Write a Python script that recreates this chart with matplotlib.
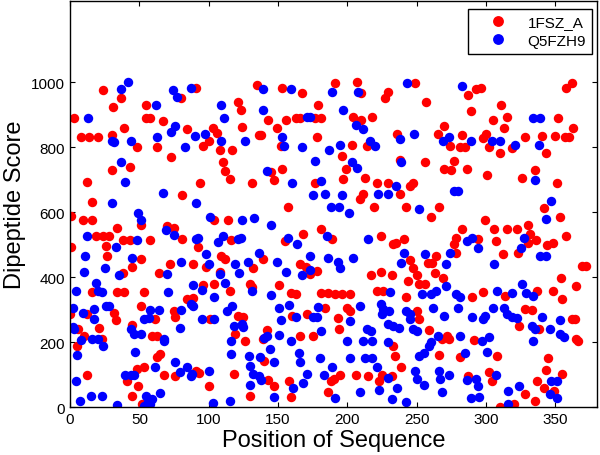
import matplotlib
matplotlib.use("Agg")
import matplotlib.pyplot as plt

# dipeptide score per sequence position
fsz_a_points = [
    (3, 890), (1, 588), (1, 492), (0, 288), (6, 242), (10, 220), (5, 189), (8, 832), (14, 832), (20, 832),
    (12, 694), (9, 577), (16, 577), (16, 633), (19, 528), (24, 528), (28, 528), (26, 497), (27, 466), (24, 977),
    (12, 100), (21, 244), (23, 210), (12, 287), (16, 356), (30, 838), (30, 731), (31, 925),
    (32, 290), (33, 268), (34, 553), (37, 952), (39, 858), (38, 415), (34, 356), (39, 356), (38, 516), (43, 516),
    (43, 740), (48, 802), (45, 431), (45, 255), (45, 36), (41, 82), (49, 66), (51, 456), (51, 561), (55, 931),
    (55, 889), (58, 889), (58, 516), (53, 356), (51, 312), (61, 271), (59, 220), (63, 220), (48, 118), (53, 124),
    (52, 10),
    (64, 415), (70, 558), (75, 553), (67, 881), (63, 802), (73, 770), (80, 951), (84, 857), (81, 654), (81, 518),
    (72, 440), (84, 333), (68, 100), (76, 98), (63, 154), (65, 164), (75, 298), (76, 278), (91, 981), (89, 440),
    (89, 338), (91, 112), (93, 106),
    (96, 805), (100, 820), (103, 859), (106, 845), (108, 792), (110, 754), (112, 727), (115, 702), (117, 792),
    (121, 939), (123, 915), (94, 690), (104, 578), (114, 578), (92, 492), (109, 466), (112, 456), (98, 432),
    (108, 416), (104, 379), (96, 377), (115, 357), (116, 514), (101, 271), (100, 67), (118, 103), (119, 225),
    (121, 282),
    (124, 864), (131, 690), (135, 992), (136, 838), (138, 838), (143, 884), (149, 858), (145, 725), (147, 700),
    (125, 279), (126, 205), (130, 379), (131, 369), (132, 430), (139, 458), (142, 238), (139, 210), (140, 144),
    (143, 85), (147, 67), (130, 36),
    (153, 984), (167, 966), (191, 997), (156, 884), (163, 889), (166, 889), (177, 889), (181, 889), (179, 930),
    (152, 803), (178, 833), (196, 772), (153, 734), (199, 734), (197, 703), (177, 690), (157, 617), (155, 512),
    (168, 534), (181, 548), (189, 517), (166, 442), (170, 432), (178, 420), (173, 411), (151, 377), (159, 353),
    (163, 348), (181, 353), (186, 353), (191, 350), (196, 350), (166, 220), (175, 220), (160, 282), (171, 287),
    (184, 307), (193, 274), (200, 307), (194, 241), (158, 82), (159, 31), (188, 80), (190, 87), (186, 49),
    (195, 101),
    (207, 1000), (210, 966), (229, 971), (227, 953), (204, 892), (210, 884), (218, 894), (203, 807), (214, 803),
    (213, 707), (236, 841), (238, 761), (221, 690), (229, 690), (211, 655), (209, 640), (219, 617), (224, 527),
    (233, 503), (202, 350), (217, 408), (224, 418), (232, 408), (221, 357), (226, 357), (238, 655), (242, 617),
    (235, 505), (241, 517), (245, 455), (247, 430), (250, 407), (244, 389), (242, 340), (202, 297), (206, 101),
    (215, 98), (225, 101), (223, 80), (233, 190), (234, 159), (239, 123), (232, 98), (249, 999), (247, 690),
    (245, 680), (250, 297), (252, 271),
    (257, 939), (256, 754), (270, 866), (265, 842), (274, 805), (277, 758), (270, 734), (275, 730), (286, 734),
    (283, 838), (281, 802), (285, 802), (287, 960), (289, 912), (293, 980), (296, 984), (298, 830), (300, 842),
    (260, 586), (266, 617), (283, 549), (278, 522), (277, 504), (294, 519), (278, 476), (264, 466), (261, 445),
    (258, 445), (263, 415), (269, 397), (252, 379), (256, 379), (299, 578), (298, 354), (290, 341), (259, 238),
    (272, 220), (273, 210), (268, 210), (291, 207), (281, 156), (266, 161), (287, 97),
    (301, 716), (302, 802), (305, 884), (311, 930), (313, 860), (315, 894), (310, 782), (319, 799), (328, 833),
    (340, 836), (343, 782), (326, 707), (335, 730), (351, 690), (350, 836), (357, 833), (360, 833), (363, 858),
    (352, 891), (358, 982), (362, 997), (306, 548), (315, 549), (322, 549), (330, 560), (358, 527), (332, 534),
    (336, 514), (330, 507), (323, 476), (344, 501), (348, 505), (307, 512), (312, 473), (342, 612), (353, 585),
    (354, 399), (365, 374), (369, 435), (372, 435), (314, 343), (337, 358), (348, 357), (355, 333), (324, 251),
    (328, 302), (333, 299), (338, 241), (362, 271), (364, 271), (366, 203), (365, 212), (308, 159), (302, 110),
    (304, 80), (310, 0), (320, 12), (328, 43), (335, 21), (337, 80), (342, 61), (343, 115), (345, 152),
    (349, 51), (355, 102),
]

q5fzh9_points = [
    (2, 307), (2, 249), (3, 241), (4, 359), (4, 81), (7, 19), (5, 160), (8, 207), (9, 290), (10, 418),
    (11, 466), (15, 36), (17, 304), (17, 271), (16, 212), (19, 384), (20, 358), (23, 356), (20, 210), (24, 190),
    (23, 34), (25, 428), (26, 312), (28, 312), (12, 528), (13, 890), (30, 821), (32, 817), (30, 630),
    (33, 492), (34, 8), (35, 408), (37, 978), (42, 1000), (37, 754), (40, 694), (44, 818), (45, 459), (49, 598),
    (51, 578), (48, 516), (44, 241), (46, 226), (51, 226), (53, 271), (57, 276), (58, 300), (55, 36), (56, 16),
    (59, 26), (58, 11), (53, 6), (47, 170), (40, 100), (44, 100), (46, 100), (61, 123),
    (64, 300), (68, 212), (68, 205), (71, 356), (70, 410), (80, 446), (65, 45), (76, 139), (79, 108), (84, 123),
    (87, 98), (79, 245), (80, 300), (87, 318), (67, 659), (62, 931), (63, 833), (73, 848), (76, 865), (74, 976),
    (77, 956), (87, 981), (83, 802), (90, 836), (69, 546), (75, 531), (89, 377), (89, 313), (88, 103),
    (97, 841), (109, 931), (111, 889), (109, 818), (91, 518), (91, 628), (101, 587), (92, 520), (107, 510),
    (110, 527), (98, 473), (100, 440), (108, 410), (112, 384), (119, 440), (95, 361), (104, 340), (95, 271),
    (104, 271), (113, 297), (117, 312), (118, 251), (116, 205), (116, 166), (100, 111), (103, 13), (115, 19),
    (139, 980), (139, 915), (126, 818), (142, 727), (124, 578), (133, 583), (145, 560), (121, 517), (123, 520),
    (122, 415), (128, 448), (136, 476), (149, 447), (131, 357), (145, 345), (124, 258), (125, 246), (142, 220),
    (140, 215), (129, 159), (137, 156), (147, 141), (144, 179), (130, 128), (132, 103), (136, 98), (138, 85),
    (130, 70), (147, 31),
    (159, 980), (189, 971), (171, 892), (173, 892), (197, 915), (153, 833), (154, 803), (167, 800), (187, 792),
    (195, 807), (177, 759), (160, 690), (181, 695), (175, 653), (184, 657), (196, 653), (188, 617), (194, 617),
    (157, 520), (164, 504), (185, 527), (173, 466), (186, 459), (193, 448), (195, 428), (173, 422), (167, 408),
    (156, 418), (151, 223), (159, 205), (181, 235), (151, 307), (158, 315), (152, 268), (163, 279), (175, 279),
    (178, 279), (179, 309), (161, 60), (165, 169), (166, 140), (171, 103), (168, 74), (180, 153), (183, 101),
    (189, 123), (191, 30),
    (208, 971), (243, 997), (206, 869), (211, 857), (216, 818), (220, 803), (203, 754), (207, 736), (238, 826),
    (239, 754), (235, 682), (201, 599), (222, 658), (229, 658), (215, 517), (204, 459), (231, 354), (202, 266),
    (209, 312), (214, 241), (217, 236), (211, 205), (218, 205), (224, 317), (226, 302), (225, 287), (230, 297),
    (229, 256), (229, 200), (202, 152), (213, 152), (218, 152), (221, 125), (229, 92), (209, 49), (223, 53),
    (232, 26), (248, 842), (241, 476), (239, 445), (252, 609), (242, 297), (245, 287), (245, 271), (233, 251),
    (237, 244), (247, 241), (250, 236), (236, 61), (249, 113), (250, 87), (242, 16), (200, 205),
    (283, 990), (273, 833), (269, 818), (289, 818), (277, 665), (280, 665), (286, 512), (290, 520), (294, 491),
    (274, 476), (271, 440), (256, 473), (271, 374), (254, 348), (260, 348), (264, 357), (278, 348), (281, 341),
    (262, 307), (270, 282), (280, 307), (290, 279), (298, 271), (299, 282), (265, 220), (260, 200), (259, 190),
    (281, 220), (297, 203), (252, 158), (255, 169), (285, 169), (255, 70), (266, 111), (267, 87), (273, 100),
    (268, 49), (286, 84), (293, 87), (294, 67), (289, 29), (295, 33),
    (334, 891), (339, 891), (304, 818), (310, 818), (321, 807), (338, 807), (335, 700), (347, 636), (343, 579),
    (327, 520), (325, 491), (339, 466), (343, 466), (306, 440), (308, 357), (319, 353), (326, 379), (329, 353),
    (334, 343), (305, 305), (313, 307), (315, 287), (319, 279), (322, 274), (333, 251), (335, 241), (340, 279),
    (346, 241), (353, 269), (353, 225), (356, 217), (334, 205), (302, 217), (301, 172), (307, 100), (316, 51),
    (316, 12), (324, 67), (347, 80), (351, 80), (346, 43), (351, 29),
]

x_ticks = [0, 50, 100, 150, 200, 250, 300, 350]
y_ticks = [0, 200, 400, 600, 800, 1000]

plt.rcParams['font.family'] = ['Liberation Sans', 'DejaVu Sans']

fig = plt.figure(figsize=(6, 4.56), dpi=100)
ax = fig.add_axes([0.1167, 0.1042, 0.8783, 0.8914])

red_x, red_y = zip(*fsz_a_points)
blue_x, blue_y = zip(*q5fzh9_points)

# red first, blue drawn over it like in the original
ax.plot(red_x, red_y, 'o', color='#ff0000', markersize=6.8, markeredgewidth=0, label='1FSZ_A')
ax.plot(blue_x, blue_y, 'o', color='#0000ff', markersize=6.8, markeredgewidth=0, label='Q5FZH9')

ax.set_xlim(0, 380)
ax.set_ylim(0, 1250)
ax.set_xticks(x_ticks)
ax.set_yticks(y_ticks)
ax.tick_params(direction='in', top=True, right=True, length=3.5, width=0.8, labelsize=11)
for sp in ax.spines.values():
    sp.set_linewidth(1.0)

ax.set_xlabel('Position of Sequence', fontsize=17, labelpad=2)
ax.set_ylabel('Dipeptide Score', fontsize=17, labelpad=4)

leg = ax.legend(loc='upper right', bbox_to_anchor=(592 / 600, 1 - 10 / 456),
                bbox_transform=fig.transFigure, borderaxespad=0, numpoints=1,
                fontsize=11, fancybox=False, framealpha=1, edgecolor='black',
                borderpad=0.4, handlelength=3.2, handletextpad=0.3, labelspacing=0.3,
                markerscale=1.15)
leg.get_frame().set_linewidth(1.0)

fig.savefig('out.png', dpi=100)
